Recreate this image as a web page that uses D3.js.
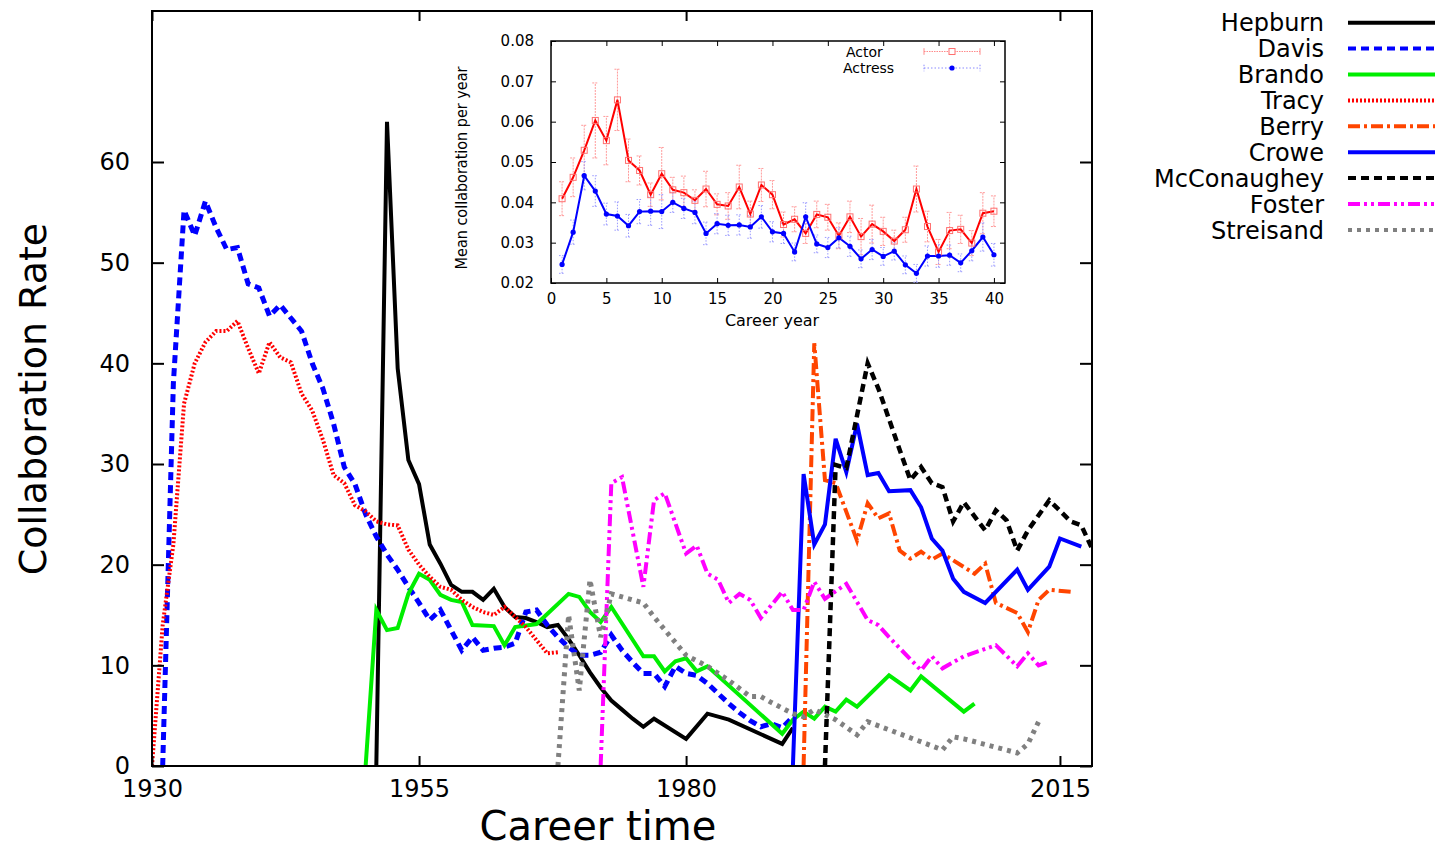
<!DOCTYPE html>
<html>
<head>
<meta charset="utf-8">
<script src="https://cdn.jsdelivr.net/npm/d3@7"></script>
<style>
  body { margin: 0; background: #fff; }
  svg { display: block; }
</style>
</head>
<body>
<div id="chart"></div>
<script>
// ---- main chart data: [year, collaboration rate]
const hepburn = [[1951,0],[1952,64],[1953,39.5],[1954,30.4],[1955,28],[1956,22],[1957,20.1],[1958,18],[1959,17.3],[1960,17.3],[1961,16.5],[1962,17.6],[1963,15.8],[1964,14.8],[1965,14.7],[1966,14.3],[1967,13.8],[1968,14],[1969,12.6],[1970,11],[1971,9.3],[1972,7.8],[1973,6.5],[1974,5.6],[1975,4.7],[1976,3.9],[1977,4.7],[1980,2.7],[1982,5.2],[1984,4.6],[1989,2.2],[1990,3.8]];
const davis = [[1931,0],[1932,38],[1933,55.2],[1934,52.7],[1935,56.1],[1936,53.5],[1937,51.3],[1938,51.5],[1939,47.9],[1940,47.5],[1941,44.7],[1942,45.8],[1943,44.5],[1944,43.2],[1945,40],[1946,37.5],[1947,34],[1948,29.7],[1949,28],[1950,25],[1951,22.8],[1952,21],[1953,19.5],[1954,17.8],[1955,16.2],[1956,14.5],[1957,15.5],[1958,13.5],[1959,11.5],[1960,12.8],[1961,11.5],[1962,11.7],[1963,11.8],[1964,12.2],[1965,15.3],[1966,15.5],[1967,14],[1968,12.8],[1969,11.8],[1970,11],[1971,11],[1972,11.3],[1973,13],[1974,11.5],[1975,10.3],[1976,9.2],[1977,9.2],[1978,7.9],[1979,9.9],[1980,9.2],[1981,9],[1982,8.2],[1983,7.2],[1984,6.2],[1985,5.3],[1986,4.5],[1987,3.9],[1988,4.2],[1989,3.8],[1990,4.9]];
const brando = [[1950,0],[1951,15.5],[1952,13.5],[1953,13.7],[1954,17.1],[1955,19.1],[1956,18.5],[1957,17],[1958,16.5],[1959,16.3],[1960,14],[1962,13.9],[1963,12],[1964,13.8],[1966,14.1],[1969,17.1],[1970,16.8],[1971,15.3],[1972,14.3],[1973,15.8],[1976,10.9],[1977,10.9],[1978,9.4],[1979,10.4],[1980,10.7],[1981,9.4],[1982,9.9],[1989,3.2],[1990,4.6],[1991,5.4],[1992,4.7],[1993,5.9],[1994,5.4],[1995,6.6],[1996,5.9],[1999,9],[2001,7.5],[2002,8.9],[2006,5.4],[2007,6.2]];
const tracy = [[1930,0],[1931,14],[1932,22],[1933,36],[1934,40],[1935,42.1],[1936,43.2],[1937,43.2],[1938,44.2],[1939,41.5],[1940,39],[1941,42.1],[1942,40.6],[1943,40.1],[1944,37],[1945,35.3],[1946,32.4],[1947,28.9],[1948,28.1],[1949,25.9],[1950,25.3],[1951,24.3],[1952,24],[1953,23.9],[1954,21.5],[1955,20],[1956,18.8],[1957,17.8],[1958,17.5],[1959,16.5],[1960,15.8],[1961,15.3],[1962,15],[1963,15.8],[1964,14.8],[1965,13.8],[1966,12.5],[1967,11.2],[1968,11.3]];
const berry = [[1991,0],[1992,42],[1993,28.4],[1994,28.1],[1996,22.4],[1997,26.1],[1998,24.6],[1999,25.1],[2000,21.4],[2001,20.6],[2002,21.3],[2003,20.5],[2004,21.1],[2007,19.1],[2008,20.1],[2009,16.2],[2011,15.2],[2012,13.3],[2013,16.5],[2014,17.5],[2016,17.3]];
const crowe = [[1990,0],[1991,29],[1992,22],[1993,24],[1994,32.5],[1995,29.2],[1996,34],[1997,28.9],[1998,29.1],[1999,27.3],[2001,27.4],[2002,25.7],[2003,22.6],[2004,21.4],[2005,18.6],[2006,17.3],[2008,16.2],[2011,19.5],[2012,17.5],[2014,19.8],[2015,22.6],[2017,21.8]];
const mcconaughey = [[1993,0],[1994,29.9],[1995,29.6],[1997,40],[1998,37.5],[2000,31.4],[2001,28.4],[2002,29.7],[2003,28.1],[2004,27.7],[2005,24.3],[2006,26.2],[2008,23.4],[2009,25.4],[2010,24.4],[2011,21.4],[2012,23.4],[2014,26.4],[2016,24.3],[2017,23.9],[2018,21.6]];
const foster = [[1972,0],[1973,28.1],[1974,28.7],[1976,17.8],[1977,26.4],[1978,27.1],[1980,21.1],[1981,21.9],[1982,19.1],[1983,18.5],[1984,16.2],[1985,17.1],[1986,16.5],[1987,14.7],[1989,17.3],[1990,15.5],[1991,15.5],[1992,18.3],[1993,16.6],[1995,18.1],[1997,14.5],[1998,14],[1999,12.8],[2002,9.5],[2003,10.9],[2004,9.7],[2006,10.9],[2009,12],[2011,9.9],[2012,11.2],[2013,10],[2014,10.4]];
const streisand = [[1968,0],[1969,15],[1970,7.5],[1971,18.5],[1972,12.8],[1973,17.1],[1976,16.2],[1977,14.8],[1980,11],[1982,9.9],[1984,8.5],[1986,6.9],[1987,6.9],[1988,6.3],[1990,5.2],[1991,4.9],[1992,5.6],[1994,4.6],[1996,3.1],[1997,4.4],[2004,1.6],[2005,2.9],[2006,2.7],[2011,1.3],[2012,2.2],[2013,4.4]];

const names = ["Hepburn","Davis","Brando","Tracy","Berry","Crowe","McConaughey","Foster","Streisand"];
const xTicks = [1930, 1955, 1980, 2015];
const yTicks = [0, 10, 20, 30, 40, 50, 60];

// ---- inset data: career year 1..40
const careerYears = [1,2,3,4,5,6,7,8,9,10,11,12,13,14,15,16,17,18,19,20,21,22,23,24,25,26,27,28,29,30,31,32,33,34,35,36,37,38,39,40];
const actorMean = [0.0409,0.0462,0.0529,0.0603,0.0553,0.0654,0.0504,0.0479,0.0419,0.0471,0.0431,0.0424,0.0405,0.0433,0.0395,0.0391,0.0438,0.0371,0.0443,0.0419,0.0345,0.0358,0.0323,0.0370,0.0363,0.0317,0.0364,0.0315,0.0346,0.0328,0.0304,0.0332,0.0433,0.0340,0.0277,0.0330,0.0333,0.0299,0.0373,0.0378];
const actorErr = [0.0042,0.0048,0.0062,0.0093,0.0060,0.0076,0.0053,0.0036,0.0029,0.0065,0.0031,0.0041,0.0026,0.0044,0.0026,0.0033,0.0054,0.0032,0.0041,0.0035,0.0031,0.0031,0.0025,0.0033,0.0032,0.0032,0.0039,0.0045,0.0047,0.0035,0.0027,0.0031,0.0057,0.0038,0.0031,0.0045,0.0035,0.0031,0.0051,0.0038];
const actressMean = [0.0246,0.0326,0.0466,0.0428,0.0371,0.0366,0.0342,0.0377,0.0378,0.0377,0.0400,0.0385,0.0375,0.0323,0.0347,0.0343,0.0344,0.0339,0.0364,0.0327,0.0323,0.0277,0.0364,0.0297,0.0288,0.0312,0.0291,0.0260,0.0283,0.0266,0.0279,0.0245,0.0224,0.0267,0.0267,0.0269,0.0250,0.0280,0.0314,0.0270];
const actressErr = [0.0022,0.0030,0.0035,0.0038,0.0027,0.0035,0.0028,0.0030,0.0035,0.0042,0.0025,0.0025,0.0028,0.0028,0.0025,0.0025,0.0025,0.0028,0.0028,0.0025,0.0025,0.0022,0.0035,0.0022,0.0025,0.0025,0.0025,0.0022,0.0025,0.0022,0.0022,0.0022,0.0022,0.0025,0.0028,0.0025,0.0022,0.0025,0.0035,0.0028];
const insetXTicks = [0,5,10,15,20,25,30,35,40];
const insetYTicks = [0.02,0.03,0.04,0.05,0.06,0.07,0.08];

// styles per series (same order as names)
const styles = [
  {color:"#000000", dash:null,              width:4},
  {color:"#0000ff", dash:"8,5",             width:5},
  {color:"#00ee00", dash:null,              width:4},
  {color:"#ff0000", dash:"2,2",             width:4},
  {color:"#ff4500", dash:"12,4,3,4",        width:4},
  {color:"#0000ff", dash:null,              width:4},
  {color:"#000000", dash:"8,5",             width:4.5},
  {color:"#ff00ff", dash:"12,4,3,4,3,4",    width:4},
  {color:"#808080", dash:"4,5",             width:5}
];
const seriesData = [hepburn, davis, brando, tracy, berry, crowe, mcconaughey, foster, streisand];
const series = names.map((n, i) => ({name: n, values: seriesData[i], style: styles[i]}));

const FONT = "'DejaVu Sans', sans-serif";

const svg = d3.select("#chart").append("svg")
    .attr("width", 1445)
    .attr("height", 849)
    .style("font-family", FONT);

var xScale = d3.scaleLinear().domain([1930, 2018]).range([152, 1092]);
var yScale = d3.scaleLinear().domain([0, 75]).range([766, 11]);

svg.append("clipPath").attr("id", "plotclip")
  .append("rect").attr("x", 152).attr("y", 11).attr("width", 940).attr("height", 755);

var line = d3.line()
    .x(d => xScale(d[0]))
    .y(d => yScale(d[1]));

svg.append("g").attr("clip-path", "url(#plotclip)")
  .selectAll("path")
  .data(series)
  .enter().append("path")
    .attr("fill", "none")
    .attr("stroke", d => d.style.color)
    .attr("stroke-width", d => d.style.width)
    .attr("stroke-dasharray", d => d.style.dash)
    .attr("stroke-linejoin", "miter")
    .attr("d", d => line(d.values));

// axes (ticks point inward, like gnuplot)
function styleAxis(g, size) {
  g.select(".domain").remove();
  g.selectAll(".tick line").attr("stroke", "#000").attr("stroke-width", 2);
  g.selectAll(".tick text").attr("fill", "#000").style("font-size", size + "px").style("font-family", FONT);
}

svg.append("g")
    .attr("transform", "translate(0,766)")
    .call(d3.axisBottom(xScale).tickValues(xTicks).tickSize(-10).tickPadding(14).tickFormat(d3.format("d")))
    .call(g => styleAxis(g, 24));
svg.append("g")
    .attr("transform", "translate(0,11)")
    .call(d3.axisTop(xScale).tickValues(xTicks).tickSize(-10).tickFormat(""))
    .call(g => styleAxis(g, 24));
svg.append("g")
    .attr("transform", "translate(152,0)")
    .call(d3.axisLeft(yScale).tickValues(yTicks).tickSize(-12).tickPadding(22))
    .call(g => styleAxis(g, 24));
svg.append("g")
    .attr("transform", "translate(1092,0)")
    .call(d3.axisRight(yScale).tickValues(yTicks).tickSize(-12).tickFormat(""))
    .call(g => styleAxis(g, 24));

svg.append("rect")
    .attr("x", 152).attr("y", 11).attr("width", 940).attr("height", 755)
    .attr("fill", "none").attr("stroke", "#000").attr("stroke-width", 2);

// axis titles
svg.append("text")
    .attr("transform", "translate(33,399) rotate(-90)")
    .attr("text-anchor", "middle")
    .attr("dominant-baseline", "central")
    .style("font-size", "38px")
    .text("Collaboration Rate");
svg.append("text")
    .attr("x", 598).attr("y", 840)
    .attr("text-anchor", "middle")
    .style("font-size", "40px")
    .text("Career time");

// legend on the right
const legend = svg.append("g").selectAll("g")
  .data(series)
  .enter().append("g")
    .attr("transform", (d, i) => "translate(0," + (22.7 + i * 25.9) + ")");
legend.append("text")
    .attr("x", 1324).attr("dy", "0.36em")
    .attr("text-anchor", "end")
    .style("font-size", "24px")
    .text(d => d.name);
legend.append("line")
    .attr("x1", 1348).attr("x2", 1435)
    .attr("stroke", d => d.style.color)
    .attr("stroke-width", 4)
    .attr("stroke-dasharray", d => d.style.dash);

// ---- inset
var ix = d3.scaleLinear().domain([0, 41]).range([551, 1005]);
var iy = d3.scaleLinear().domain([0.02, 0.08]).range([283, 41]);
const inset = svg.append("g");

inset.append("rect")
    .attr("x", 551).attr("y", 41).attr("width", 454).attr("height", 242)
    .attr("fill", "#fff");

function styleInset(g) {
  g.select(".domain").remove();
  g.selectAll(".tick line").attr("stroke", "#000").attr("stroke-width", 1);
  g.selectAll(".tick text").attr("fill", "#000").style("font-size", "15px").style("font-family", FONT);
}
inset.append("g").attr("transform", "translate(0,283)")
    .call(d3.axisBottom(ix).tickValues(insetXTicks).tickSize(-5).tickPadding(10))
    .call(styleInset);
inset.append("g").attr("transform", "translate(0,41)")
    .call(d3.axisTop(ix).tickValues(insetXTicks).tickSize(-5).tickFormat(""))
    .call(styleInset);
inset.append("g").attr("transform", "translate(551,0)")
    .call(d3.axisLeft(iy).tickValues(insetYTicks).tickSize(-5).tickPadding(17).tickFormat(d3.format(".2f")))
    .call(styleInset);
inset.append("g").attr("transform", "translate(1005,0)")
    .call(d3.axisRight(iy).tickValues(insetYTicks).tickSize(-5).tickFormat(""))
    .call(styleInset);

inset.append("rect")
    .attr("x", 551).attr("y", 41).attr("width", 454).attr("height", 242)
    .attr("fill", "none").attr("stroke", "#000").attr("stroke-width", 1.5);

const actorPts = careerYears.map((c, i) => ({x: c, m: actorMean[i], e: actorErr[i]}));
const actressPts = careerYears.map((c, i) => ({x: c, m: actressMean[i], e: actressErr[i]}));

function errorBars(pts, color, dash) {
  const g = inset.append("g").attr("stroke", color).attr("stroke-width", 1).attr("stroke-dasharray", dash);
  g.selectAll("line.v").data(pts).enter().append("line")
      .attr("x1", d => ix(d.x)).attr("x2", d => ix(d.x))
      .attr("y1", d => iy(d.m - d.e)).attr("y2", d => iy(d.m + d.e));
  [-1, 1].forEach(s => {
    g.selectAll(null).data(pts).enter().append("line")
        .attr("x1", d => ix(d.x) - 3).attr("x2", d => ix(d.x) + 3)
        .attr("y1", d => iy(d.m + s * d.e)).attr("y2", d => iy(d.m + s * d.e));
  });
}
errorBars(actorPts, "#ff9a9a", "2,1");
errorBars(actressPts, "#9a9aff", "1.5,1.5");

var insetLine = d3.line().x(d => ix(d.x)).y(d => iy(d.m));
inset.append("path").datum(actorPts)
    .attr("fill", "none").attr("stroke", "#ff0000").attr("stroke-width", 2)
    .attr("d", insetLine);
inset.append("path").datum(actressPts)
    .attr("fill", "none").attr("stroke", "#0000ff").attr("stroke-width", 2)
    .attr("d", insetLine);

inset.selectAll("rect.actor").data(actorPts).enter().append("rect")
    .attr("class", "actor")
    .attr("x", d => ix(d.x) - 3).attr("y", d => iy(d.m) - 3)
    .attr("width", 6).attr("height", 6)
    .attr("fill", "none").attr("stroke", "#ff7070").attr("stroke-width", 1);
inset.selectAll("circle.actress").data(actressPts).enter().append("circle")
    .attr("class", "actress")
    .attr("cx", d => ix(d.x)).attr("cy", d => iy(d.m)).attr("r", 2.6)
    .attr("fill", "#0000ff");

// inset legend
const ileg = inset.append("g");
ileg.append("text").attr("x", 846).attr("y", 56.5).style("font-size", "14px").text("Actor");
ileg.append("text").attr("x", 843).attr("y", 73).style("font-size", "14px").text("Actress");
ileg.append("line").attr("x1", 924).attr("x2", 980).attr("y1", 51.5).attr("y2", 51.5)
    .attr("stroke", "#ff8a8a").attr("stroke-width", 1).attr("stroke-dasharray", "1.5,1");
[924, 980].forEach(xx => ileg.append("line").attr("x1", xx).attr("x2", xx).attr("y1", 48.2).attr("y2", 54.8)
    .attr("stroke", "#ff8a8a").attr("stroke-width", 1));
ileg.append("rect").attr("x", 949).attr("y", 48.5).attr("width", 6).attr("height", 6)
    .attr("fill", "#fff").attr("stroke", "#ff7070").attr("stroke-width", 1);
ileg.append("line").attr("x1", 924).attr("x2", 980).attr("y1", 68).attr("y2", 68)
    .attr("stroke", "#8a8aff").attr("stroke-width", 1).attr("stroke-dasharray", "1.5,2");
[924, 980].forEach(xx => ileg.append("line").attr("x1", xx).attr("x2", xx).attr("y1", 64.7).attr("y2", 71.3)
    .attr("stroke", "#8a8aff").attr("stroke-width", 1).attr("stroke-dasharray", "1.5,1.5"));
ileg.append("circle").attr("cx", 952).attr("cy", 68).attr("r", 2.6).attr("fill", "#0000ff");

// inset axis titles
inset.append("text")
    .attr("x", 772).attr("y", 326)
    .attr("text-anchor", "middle")
    .style("font-size", "16px")
    .text("Career year");
inset.append("text")
    .attr("transform", "translate(461,168) rotate(-90)")
    .attr("text-anchor", "middle")
    .attr("dominant-baseline", "central")
    .style("font-family", "'Liberation Sans Narrow', 'DejaVu Sans Condensed', sans-serif")
    .style("font-size", "16px")
    .text("Mean collaboration per year");
</script>
</body>
</html>
